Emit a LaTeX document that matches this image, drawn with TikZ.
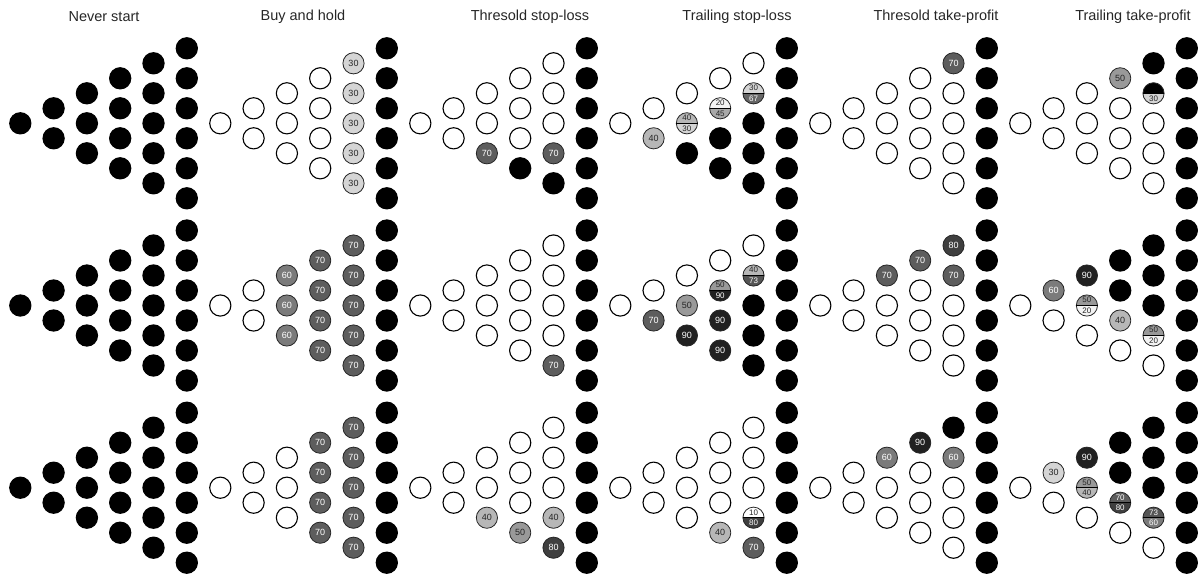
\documentclass[tikz,border=0pt]{standalone}
\usepackage{fontspec}
\setmainfont{Liberation Sans}
\tikzset{
  every node/.style={inner sep=0pt, outer sep=0pt},
  dot/.style={circle, minimum size=21.2pt},
  wdot/.style={dot, draw=black, line width=1.1pt, fill=white},
  bdot/.style={dot, draw=black, line width=1.1pt, fill=black},
  gdot/.style={dot, draw=black!85, line width=0.8pt},
  lab/.style={font=\fontsize{9}{9}\selectfont},
  slab/.style={font=\fontsize{8}{8}\selectfont},
  ttl/.style={font=\fontsize{14.5}{16}\selectfont, text=black!85},
}
\newcommand\setgray[2]{\pgfmathtruncatemacro\lvl{max(0,min(255,303-3*#2))}\definecolor{#1}{RGB}{\lvl,\lvl,\lvl}}
\newcommand\settc[1]{\ifnum#1>59 \colorlet{tc}{white}\else\colorlet{tc}{black!85}\fi}
\newcommand\cell[5]{%
 \edef\ctop{#4}\edef\cbot{#5}%
 \ifnum\strcmp{\ctop}{W}=0
   \node[wdot] (#1) at (#2,#3) {};%
 \else
  \ifnum\strcmp{\cbot}{-}=0
   \ifnum\strcmp{\ctop}{B}=0
     \node[bdot] (#1) at (#2,#3) {};%
   \else
     \setgray{cf}{\ctop}\settc{\ctop}%
     \node[gdot, fill=cf, text=tc, lab] (#1) at (#2,#3) {\ctop};%
   \fi
  \else
   \ifnum\strcmp{\ctop}{B}=0
     \colorlet{cft}{black}\colorlet{tct}{white}\def\ttxt{}%
   \else
     \setgray{cft}{\ctop}\settc{\ctop}\colorlet{tct}{tc}\let\ttxt\ctop
   \fi
   \setgray{cfb}{\cbot}\settc{\cbot}\colorlet{tcb}{tc}%
   \begin{scope}
     \clip (#2-12,#3-12) rectangle (#2+12,#3);
     \fill[cft] (#2,#3) circle[radius=10.6pt];
   \end{scope}
   \begin{scope}
     \clip (#2-12,#3) rectangle (#2+12,#3+12);
     \fill[cfb] (#2,#3) circle[radius=10.6pt];
   \end{scope}
   \node[gdot] (#1) at (#2,#3) {};
   \draw[line width=0.8pt] (#1.west) -- (#1.east);
   \node[slab, text=tct] (#1t) at (#2,#3-5.3) {\ttxt};
   \node[slab, text=tcb] (#1b) at (#2,#3+5.3) {\cbot};
  \fi
 \fi}
\newcommand\colm[5]{%
  \foreach \vt/\vb [count=\vi from 0] in {#5}{%
    \pgfmathsetmacro\xx{#2+#4*33.3}%
    \pgfmathsetmacro\yy{#3-#4*15+\vi*30}%
    \cell{#1c#4i\vi}{\xx}{\yy}{\vt}{\vb}%
  }}
\newcommand\panel[8]{%
 \colm{#1}{#2}{#3}{0}{#4}\colm{#1}{#2}{#3}{1}{#5}\colm{#1}{#2}{#3}{2}{#6}%
 \colm{#1}{#2}{#3}{3}{#7}\colm{#1}{#2}{#3}{4}{#8}%
 \colm{#1}{#2}{#3}{5}{B/-,B/-,B/-,B/-,B/-,B/-}}
\begin{document}
\begin{tikzpicture}[x=1pt,y=-1pt]
\useasboundingbox (0,0) rectangle (1203,576);
% titles
\node[ttl] (t0) at (104,17) {Never start};
\node[ttl] (t1) at (303,17) {Buy and hold};
\node[ttl] (t2) at (530,17) {Thresold stop-loss};
\node[ttl] (t3) at (737,17) {Trailing stop-loss};
\node[ttl] (t4) at (936,17) {Thresold take-profit};
\node[ttl] (t5) at (1133,17) {Trailing take-profit};
% row 1
\panel{ra}{20.3}{123.3}{B/-}{B/-,B/-}{B/-,B/-,B/-}{B/-,B/-,B/-,B/-}{B/-,B/-,B/-,B/-,B/-}
\panel{rb}{220.3}{123.3}{W/-}{W/-,W/-}{W/-,W/-,W/-}{W/-,W/-,W/-,W/-}{30/-,30/-,30/-,30/-,30/-}
\panel{rc}{420.3}{123.3}{W/-}{W/-,W/-}{W/-,W/-,70/-}{W/-,W/-,W/-,B/-}{W/-,W/-,W/-,70/-,B/-}
\panel{rd}{620.3}{123.3}{W/-}{W/-,40/-}{W/-,40/30,B/-}{W/-,20/45,B/-,B/-}{W/-,30/67,B/-,B/-,B/-}
\panel{re}{820.3}{123.3}{W/-}{W/-,W/-}{W/-,W/-,W/-}{W/-,W/-,W/-,W/-}{70/-,W/-,W/-,W/-,W/-}
\panel{rf}{1020.3}{123.3}{W/-}{W/-,W/-}{W/-,W/-,W/-}{50/-,W/-,W/-,W/-}{B/-,B/30,W/-,W/-,W/-}
% row 2
\panel{sa}{20.3}{305.5}{B/-}{B/-,B/-}{B/-,B/-,B/-}{B/-,B/-,B/-,B/-}{B/-,B/-,B/-,B/-,B/-}
\panel{sb}{220.3}{305.5}{W/-}{W/-,W/-}{60/-,60/-,60/-}{70/-,70/-,70/-,70/-}{70/-,70/-,70/-,70/-,70/-}
\panel{sc}{420.3}{305.5}{W/-}{W/-,W/-}{W/-,W/-,W/-}{W/-,W/-,W/-,W/-}{W/-,W/-,W/-,W/-,70/-}
\panel{sd}{620.3}{305.5}{W/-}{W/-,70/-}{W/-,50/-,90/-}{W/-,50/90,90/-,90/-}{W/-,40/73,B/-,B/-,B/-}
\panel{se}{820.3}{305.5}{W/-}{W/-,W/-}{70/-,W/-,W/-}{70/-,W/-,W/-,W/-}{80/-,70/-,W/-,W/-,W/-}
\panel{sf}{1020.3}{305.5}{W/-}{60/-,W/-}{90/-,50/20,W/-}{B/-,B/-,40/-,W/-}{B/-,B/-,B/-,50/20,W/-}
% row 3
\panel{ta}{20.3}{487.7}{B/-}{B/-,B/-}{B/-,B/-,B/-}{B/-,B/-,B/-,B/-}{B/-,B/-,B/-,B/-,B/-}
\panel{tb}{220.3}{487.7}{W/-}{W/-,W/-}{W/-,W/-,W/-}{70/-,70/-,70/-,70/-}{70/-,70/-,70/-,70/-,70/-}
\panel{tc}{420.3}{487.7}{W/-}{W/-,W/-}{W/-,W/-,40/-}{W/-,W/-,W/-,50/-}{W/-,W/-,W/-,40/-,80/-}
\panel{td}{620.3}{487.7}{W/-}{W/-,W/-}{W/-,W/-,W/-}{W/-,W/-,W/-,40/-}{W/-,W/-,W/-,10/80,70/-}
\panel{te}{820.3}{487.7}{W/-}{W/-,W/-}{60/-,W/-,W/-}{90/-,W/-,W/-,W/-}{B/-,60/-,W/-,W/-,W/-}
\panel{tf}{1020.3}{487.7}{W/-}{30/-,W/-}{90/-,50/40,W/-}{B/-,B/-,70/80,W/-}{B/-,B/-,B/-,73/60,W/-}
\end{tikzpicture}
\end{document}
